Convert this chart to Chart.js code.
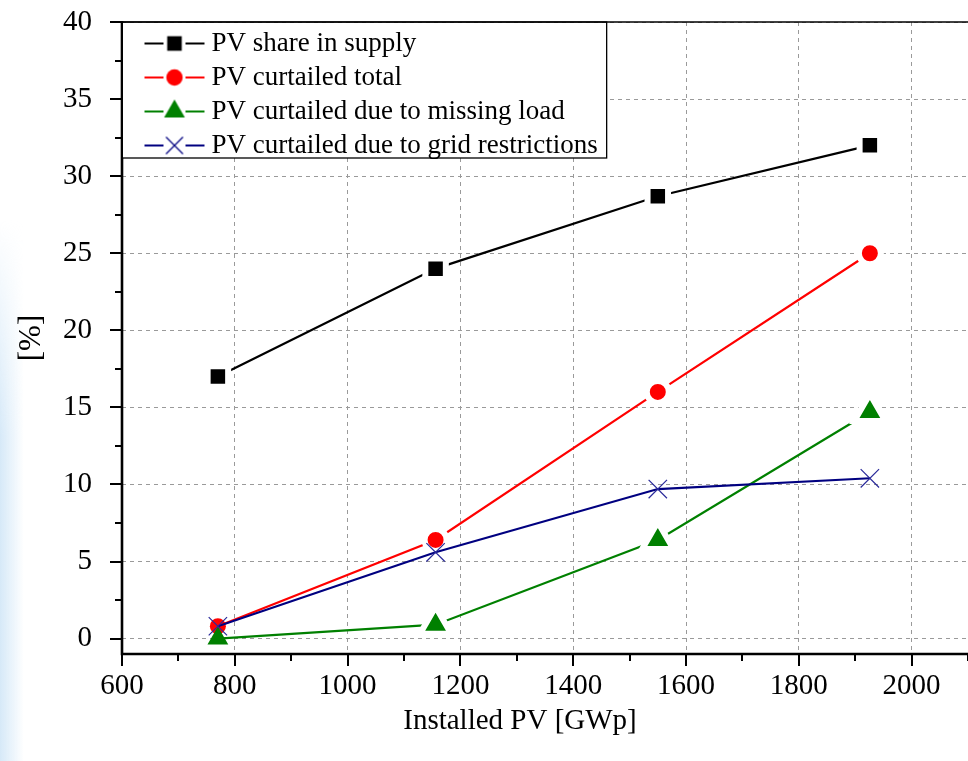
<!DOCTYPE html>
<html>
<head>
<meta charset="utf-8">
<script src="https://cdn.jsdelivr.net/npm/chart.js@4.4.0/dist/chart.umd.min.js"></script>
<style>
  html, body { margin: 0; padding: 0; background: #fff; }
  #wrap { position: relative; width: 968px; height: 761px; overflow: hidden; }
  #glow {
    position: absolute; left: 0; top: 220px; width: 24px; height: 541px;
    background: linear-gradient(to right, #d6e9f8, rgba(255,255,255,0));
    -webkit-mask-image: linear-gradient(to bottom, transparent, #000 40%);
    mask-image: linear-gradient(to bottom, transparent, #000 40%);
  }
  canvas { position: absolute; left: 0; top: 0; }
</style>
</head>
<body>
<div id="wrap">
  <div id="glow"></div>
  <canvas id="pvChart" width="968" height="761"></canvas>
</div>
<script>
// values
const installedPV = [770, 1156, 1550, 1926];
const pvShare = [17.0, 24.0, 28.7, 32.0];
const curtailedTotal = [0.8, 6.4, 16.0, 25.0];
const curtailedMissingLoad = [0.0, 0.9, 6.4, 14.7];
const curtailedGrid = [0.8, 5.6, 9.7, 10.4];

const seriesLabels = [
  "PV share in supply",
  "PV curtailed total",
  "PV curtailed due to missing load",
  "PV curtailed due to grid restrictions"
];

const xTicks = [600, 800, 1000, 1200, 1400, 1600, 1800, 2000];
const yTicks = [0, 5, 10, 15, 20, 25, 30, 35, 40];
const xTitle = "Installed PV [GWp]";

const serif = "'Liberation Serif', 'Times New Roman', serif";

function pts(ys) {
  return installedPV.map((x, i) => ({ x: x, y: ys[i] }));
}

// the first points sit on top of each other, so no white ring there
const ring = c => (c.dataIndex === 0 ? 0 : 6);

// small line-marker-line picture for the legend
function legendIcon(color, style, radius, bw) {
  const c = document.createElement("canvas");
  c.width = 100; c.height = 30;
  const g = c.getContext("2d");
  g.strokeStyle = color;
  g.fillStyle = color;
  g.lineWidth = 2;
  g.beginPath();
  g.moveTo(31, 15); g.lineTo(50, 15);
  g.moveTo(72, 15); g.lineTo(91, 15);
  g.stroke();
  g.lineWidth = bw;
  Chart.helpers.drawPoint(g, { pointStyle: style, radius: radius, borderWidth: bw, rotation: 0 }, 61, 15);
  return c;
}

const icons = [
  legendIcon("#000000", "rect", 10.3, 0),
  legendIcon("#ff0000", "circle", 8.2, 0),
  legendIcon("#008000", "triangle", 12, 0),
  legendIcon("#000080", "crossRot", 12, 1.2)
];

const frame = {
  id: "frame",
  afterLayout(chart) {
    // chartArea legends get top = 0, push it into the plot
    const lg = chart.legend;
    const h = lg.bottom - lg.top;
    lg.top = chart.chartArea.top + 1;
    lg.bottom = lg.top + h;
  },
  afterDraw(chart) {
    const ctx = chart.ctx;
    const a = chart.chartArea;
    const xs = chart.scales.x, ys = chart.scales.y;
    ctx.save();
    ctx.strokeStyle = "#000";
    // top border
    ctx.lineWidth = 1.6;
    ctx.beginPath(); ctx.moveTo(a.left, a.top); ctx.lineTo(a.right, a.top); ctx.stroke();
    // axis lines
    ctx.lineWidth = 2.6;
    ctx.beginPath();
    ctx.moveTo(a.left, a.top - 1); ctx.lineTo(a.left, a.bottom);
    ctx.lineTo(a.right, a.bottom);
    ctx.stroke();
    // ticks, major and minor
    ctx.lineWidth = 2;
    ctx.beginPath();
    for (let v = 0; v <= 40; v += 2.5) {
      const y = Math.round(ys.getPixelForValue(v));
      const len = v % 5 === 0 ? 12 : 7;
      ctx.moveTo(a.left - len, y); ctx.lineTo(a.left, y);
    }
    for (let v = 600; v <= 2100; v += 100) {
      const x = Math.round(xs.getPixelForValue(v));
      const len = v % 200 === 0 ? 12 : 7;
      ctx.moveTo(x, a.bottom); ctx.lineTo(x, a.bottom + len);
    }
    ctx.stroke();

    // x axis title
    ctx.fillStyle = "#000";
    ctx.font = "29px " + serif;
    ctx.textAlign = "center";
    ctx.textBaseline = "middle";
    ctx.fillText(xTitle, 520, 721);

    // legend frame
    const lg = chart.legend;
    if (lg && lg.legendHitBoxes.length) {
      const hb = lg.legendHitBoxes;
      const right = Math.max(...hb.map(h => h.left + h.width)) + 9;
      const bottom = a.top + 136;
      ctx.fillStyle = "#fff";
      ctx.fillRect(a.left + 1, a.top + 1, right - a.left - 1, bottom - a.top - 1);
      ctx.lineWidth = 1.3;
      ctx.strokeRect(a.left, a.top, right - a.left, bottom - a.top);
      ctx.restore();
      lg.draw();
      return;
    }
    ctx.restore();
  }
};

const chart = new Chart(document.getElementById("pvChart"), {
  type: "line",
  data: {
    datasets: [
      {
        label: seriesLabels[0], data: pts(pvShare), order: 4,
        borderColor: "#000000", backgroundColor: "#000000", borderWidth: 2.2,
        pointStyle: "rect", pointRadius: 14.5, pointBorderColor: "#ffffff", pointBorderWidth: 6
      },
      {
        label: seriesLabels[1], data: pts(curtailedTotal), order: 3,
        borderColor: "#ff0000", backgroundColor: "#ff0000", borderWidth: 2.2,
        pointStyle: "circle", pointBorderColor: "#ffffff",
        pointRadius: c => (c.dataIndex === 0 ? 8 : 11), pointBorderWidth: ring
      },
      {
        label: seriesLabels[2], data: pts(curtailedMissingLoad), order: 2,
        borderColor: "#008000", backgroundColor: "#008000", borderWidth: 2.2,
        pointStyle: "triangle", pointBorderColor: "#ffffff",
        pointRadius: c => (c.dataIndex === 0 ? 12 : 18), pointBorderWidth: ring
      },
      {
        label: seriesLabels[3], data: pts(curtailedGrid), order: 1,
        borderColor: "#000080", backgroundColor: "#000080", borderWidth: 2.2,
        pointStyle: "crossRot", pointRadius: 13, pointBorderColor: "#2a2a9a", pointBorderWidth: 1.2
      }
    ]
  },
  options: {
    responsive: false,
    animation: false,
    events: [],
    layout: { autoPadding: false, padding: { top: 22, right: 0, left: 0, bottom: 0 } },
    plugins: {
      tooltip: { enabled: false },
      legend: {
        position: "chartArea",
        align: "start",
        labels: {
          usePointStyle: true,
          pointStyleWidth: 69,
          padding: 7,
          color: "#000",
          font: { family: serif, size: 27 },
          sort: (a, b) => a.datasetIndex - b.datasetIndex,
          generateLabels: (ch) => ch.data.datasets.map((ds, i) => ({
            text: ds.label, pointStyle: icons[i], datasetIndex: i,
            fillStyle: ds.backgroundColor, strokeStyle: ds.borderColor,
            lineWidth: 0, hidden: false, fontColor: "#000"
          }))
        }
      }
    },
    scales: {
      x: {
        type: "linear", min: 600, max: 2100,
        afterBuildTicks: s => { s.ticks = xTicks.map(v => ({ value: v })); },
        afterFit: s => { s.height = 107; s.paddingLeft = 0; s.paddingRight = 0; },
        grid: { color: "#9a9a9a", lineWidth: 1, drawTicks: false },
        border: { display: false, dash: [4, 4] },
        ticks: { padding: 15, color: "#000", font: { family: serif, size: 29 }, callback: v => String(v), maxRotation: 0 }
      },
      y: {
        min: -1, max: 40,
        afterBuildTicks: s => { s.ticks = yTicks.map(v => ({ value: v })); },
        afterFit: s => { s.width = 122; s.paddingTop = 0; s.paddingBottom = 0; },
        grid: { color: "#9a9a9a", lineWidth: 1, drawTicks: false },
        border: { display: false, dash: [4, 4] },
        ticks: { padding: 30, color: "#000", font: { family: serif, size: 29 }, callback: v => String(v) },
        title: { display: true, text: "[%]", color: "#000", font: { family: serif, size: 31 }, padding: { top: 13, bottom: 0 } }
      }
    }
  },
  plugins: [frame]
});
</script>
</body>
</html>
